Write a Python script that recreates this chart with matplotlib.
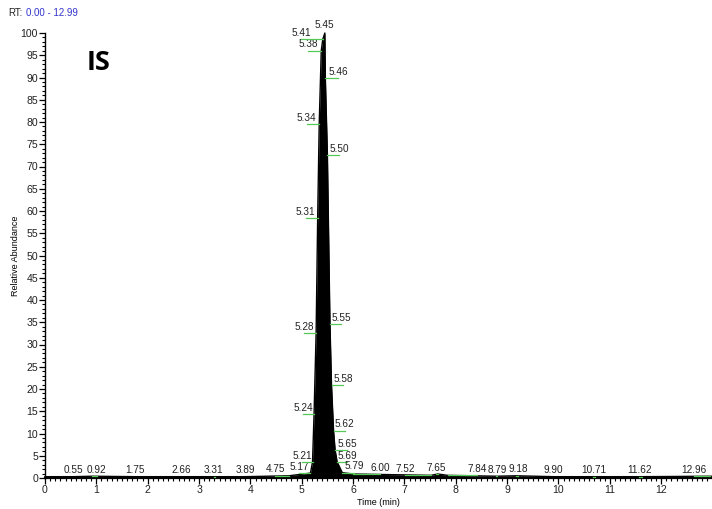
import matplotlib
matplotlib.use("Agg")
import matplotlib.pyplot as plt
from matplotlib.ticker import MultipleLocator

plt.rcParams['font.family'] = ['Liberation Sans', 'DejaVu Sans']

# Chromatogram trace (retention time in min, relative abundance in %)
rt = [0.00, 0.55, 0.92, 1.75, 2.66, 3.31, 3.89, 4.75, 5.17, 5.21, 5.24, 5.28,
      5.31, 5.34, 5.38, 5.41, 5.45, 5.46, 5.50, 5.55, 5.58, 5.62, 5.65, 5.69,
      5.79, 6.00, 7.52, 7.65, 7.84, 8.79, 9.18, 9.90, 10.71, 11.62, 12.96, 12.99]
abundance = [0.3, 0.3, 0.4, 0.3, 0.3, 0.3, 0.3, 0.5, 1.1, 3.6, 14.4, 32.6,
             58.4, 79.5, 96.0, 98.6, 100.0, 89.9, 72.6, 34.6, 20.9, 10.6, 6.3, 3.6,
             1.2, 0.9, 0.6, 0.9, 0.6, 0.4, 0.5, 0.3, 0.3, 0.3, 0.4, 0.4]

# Peak labels: label retention times
peak_labels = [0.55, 0.92, 1.75, 2.66, 3.31, 3.89, 4.75, 5.17, 5.21, 5.24, 5.28,
               5.31, 5.34, 5.38, 5.41, 5.45, 5.46, 5.50, 5.55, 5.58, 5.62, 5.65,
               5.69, 5.79, 6.00, 7.52, 7.65, 7.84, 8.79, 9.18, 9.90, 10.71, 11.62, 12.96]
# label text centre positions (style: where the text sits, in minutes)
label_x = {0.55: 0.55, 0.92: 1.01, 1.75: 1.75, 2.66: 2.65, 3.31: 3.29, 3.89: 3.90,
           4.75: 4.48, 5.17: 4.95, 5.21: 5.01, 5.24: 5.03, 5.28: 5.05, 5.31: 5.08,
           5.34: 5.10, 5.38: 5.12, 5.41: 4.99, 5.45: 5.45, 5.46: 5.71, 5.50: 5.73,
           5.55: 5.77, 5.58: 5.81, 5.62: 5.84, 5.65: 5.88, 5.69: 5.88, 5.79: 6.02,
           6.00: 6.53, 7.52: 7.01, 7.65: 7.62, 7.84: 8.42, 8.79: 8.81, 9.18: 9.21,
           9.90: 9.90, 10.71: 10.68, 11.62: 11.57, 12.96: 12.64}

x_major = list(range(0, 13))
y_major = list(range(0, 101, 5))

fig = plt.figure(figsize=(7.12, 5.09), dpi=100)
ax = fig.add_axes([45/712, 1 - 478/509, 1 - 45/712, (478 - 33)/509])

ax.fill_between(rt, abundance, 0, color='black', lw=0)
ax.plot(rt, abundance, color='black', lw=1.0, clip_on=False)

ab_map = dict(zip(rt, abundance))
for t in peak_labels:
    v = ab_map[t]
    lx = label_x[t]
    if abs(lx - t) > 0.02:
        ax.plot([lx, t], [v, v], color='#55c855', lw=0.9, clip_on=False, zorder=3)
    ax.annotate(f"{t:.2f}", xy=(lx, v), xytext=(0, 1 if t != 5.45 else 2.5),
                textcoords='offset points', ha='center', va='bottom',
                fontsize=7.2, color='#222222', annotation_clip=False)

ax.set_xlim(0, 12.99)
ax.set_ylim(0, 100)
ax.set_xticks(x_major)
ax.set_yticks(y_major)
ax.xaxis.set_minor_locator(MultipleLocator(0.1))
ax.yaxis.set_minor_locator(MultipleLocator(1))
ax.tick_params(axis='both', which='major', direction='out', length=4, width=0.9,
               labelsize=7.6, pad=1, colors='black')
ax.tick_params(axis='both', which='minor', direction='out', length=2.2, width=0.8)
for lab in ax.get_xticklabels() + ax.get_yticklabels():
    lab.set_color('#222222')

ax.spines['top'].set_visible(False)
ax.spines['right'].set_visible(False)
ax.spines['bottom'].set_linewidth(1.6)
ax.spines['left'].set_linewidth(1.0)

ax.set_xlabel("Time (min)", fontsize=6.5, labelpad=2)
fig.text(16/712, 1 - 256/509, "Relative Abundance", rotation=90, fontsize=6.5,
         ha='center', va='center')

fig.text(8/712, 1 - 13/509, "RT:", fontsize=7, ha='left', va='center', color='#222222')
fig.text(26/712, 1 - 13/509, "0.00 - 12.99", fontsize=7, ha='left', va='center',
         color='#3333cc')

fig.text(99/712, 1 - 63/509, "IS", fontsize=19.5, fontweight='bold', ha='center',
         va='center', family=['Open Sans', 'DejaVu Sans'])

fig.savefig("out.png", dpi=100)
